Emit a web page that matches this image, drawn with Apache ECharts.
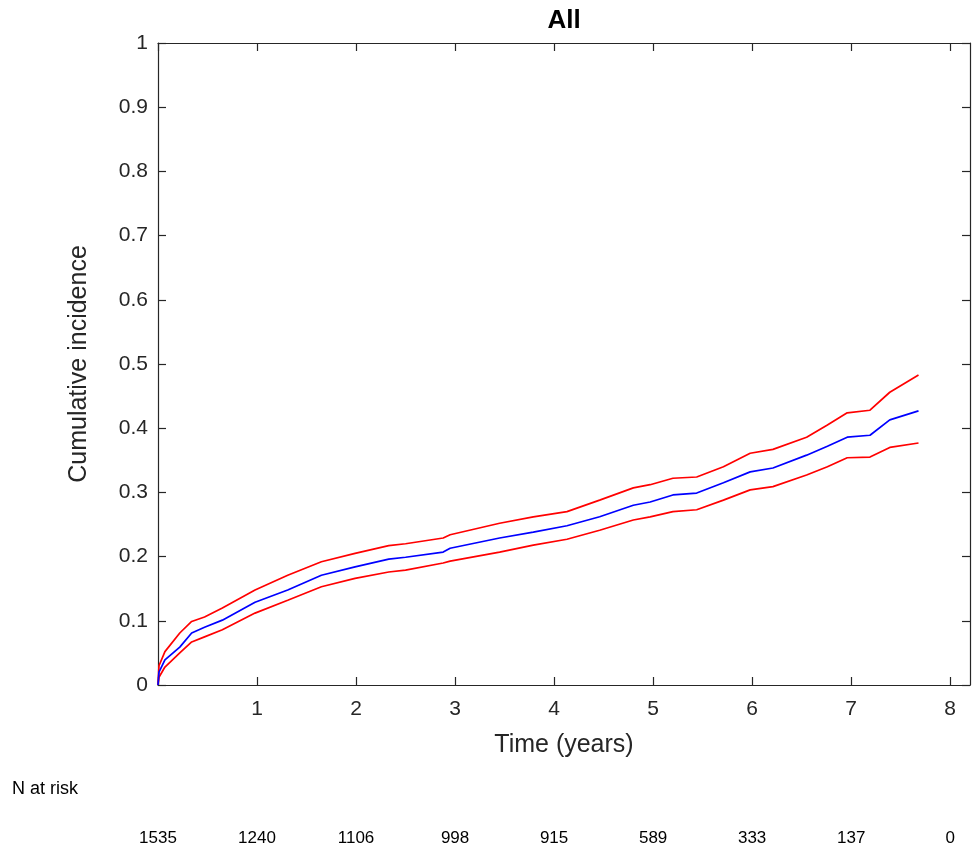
<!DOCTYPE html>
<html>
<head>
<meta charset="utf-8">
<script src="https://cdn.jsdelivr.net/npm/echarts@6/dist/echarts.min.js"></script>
<style>html,body{margin:0;padding:0;background:#fff;}#c{width:974px;height:851px;}</style>
</head>
<body>
<div id="c"></div>
<script>
// Data
var times = [0, 0.01, 0.07, 0.22, 0.34, 0.47, 0.65, 0.98, 1.31, 1.65, 1.99, 2.33, 2.5, 2.88, 2.95, 3.45, 3.79, 4.13, 4.46, 4.8, 4.97, 5.2, 5.44, 5.71, 5.98, 6.21, 6.55, 6.76, 6.96, 7.19, 7.39, 7.68];
var estimate = [0, 0.02, 0.039, 0.059, 0.081, 0.090, 0.101, 0.129, 0.148, 0.171, 0.184, 0.196, 0.199, 0.207, 0.213, 0.229, 0.238, 0.248, 0.262, 0.280, 0.285, 0.296, 0.299, 0.315, 0.332, 0.338, 0.358, 0.372, 0.386, 0.389, 0.413, 0.427];
var upperCI = [0, 0.03, 0.052, 0.081, 0.099, 0.106, 0.120, 0.148, 0.171, 0.192, 0.205, 0.217, 0.220, 0.229, 0.234, 0.252, 0.262, 0.270, 0.288, 0.307, 0.312, 0.322, 0.324, 0.340, 0.361, 0.367, 0.386, 0.405, 0.424, 0.428, 0.456, 0.483];
var lowerCI = [0, 0.012, 0.028, 0.050, 0.067, 0.075, 0.086, 0.112, 0.132, 0.153, 0.166, 0.176, 0.179, 0.190, 0.193, 0.207, 0.218, 0.227, 0.241, 0.257, 0.262, 0.270, 0.273, 0.288, 0.304, 0.309, 0.327, 0.340, 0.354, 0.355, 0.370, 0.377];
var riskTimes = [0, 1, 2, 3, 4, 5, 6, 7, 8];
var nAtRisk = [1535, 1240, 1106, 998, 915, 589, 333, 137, 0];
var xTickValues = [0, 1, 2, 3, 4, 5, 6, 7, 8];
var xLabelValues = [1, 2, 3, 4, 5, 6, 7, 8];

function pairs(vals) { return times.map(function (t, i) { return [t, vals[i]]; }); }

var axisColor = '#262626';
var font = 'Liberation Sans, Arial, Helvetica, sans-serif';
var chart = echarts.init(document.getElementById('c'), null, {renderer: 'canvas'});

function boxAxis() {
  return {
    axisLine: {show: true, onZero: false, lineStyle: {color: axisColor, width: 1.2}},
    axisTick: {show: true, inside: true, length: 8, lineStyle: {color: axisColor, width: 1.2}},
    splitLine: {show: false}
  };
}

var option = {
  animation: false,
  backgroundColor: '#fff',
  title: {
    text: 'All', left: 559, top: 3, textAlign: 'center',
    textStyle: {fontFamily: font, fontWeight: 'bold', fontSize: 26, color: '#000'}
  },
  grid: {left: 158, right: 4, top: 43, bottom: 166, containLabel: false},
  xAxis: [
    (function () {
      var a = boxAxis();
      a.axisTick.customValues = xTickValues;
      return Object.assign(a, {
        type: 'value', min: 0, max: 8.2, interval: 1, position: 'bottom',
        name: 'Time (years)', nameLocation: 'middle', nameGap: 48,
        nameTextStyle: {fontFamily: font, fontSize: 25, color: axisColor},
        axisLabel: {
          margin: 14, fontFamily: font, fontSize: 21, color: axisColor,
          customValues: xLabelValues,
          formatter: function (v) { return String(v); }
        }
      });
    })(),
    (function () {
      var a = boxAxis();
      a.axisTick.customValues = xTickValues;
      return Object.assign(a, {
        type: 'value', min: 0, max: 8.2, interval: 1, position: 'top',
        axisLabel: {show: false}
      });
    })()
  ],
  yAxis: [
    Object.assign(boxAxis(), {
      type: 'value', min: 0, max: 1, interval: 0.1, position: 'left',
      name: 'Cumulative incidence', nameLocation: 'middle', nameGap: 66,
      nameTextStyle: {fontFamily: font, fontSize: 25, color: axisColor},
      axisLabel: {
        margin: 10, fontFamily: font, fontSize: 21, color: axisColor,
        formatter: function (v) { return String(Math.round(v * 10) / 10); }
      }
    }),
    Object.assign(boxAxis(), {
      type: 'value', min: 0, max: 1, interval: 0.1, position: 'right',
      axisLabel: {show: false}
    })
  ],
  series: [
    {type: 'line', name: 'Upper', data: pairs(upperCI), showSymbol: false, symbol: 'none',
     lineStyle: {color: '#ff0000', width: 1.7}, xAxisIndex: 0, yAxisIndex: 0, z: 2},
    {type: 'line', name: 'Lower', data: pairs(lowerCI), showSymbol: false, symbol: 'none',
     lineStyle: {color: '#ff0000', width: 1.7}, xAxisIndex: 0, yAxisIndex: 0, z: 2},
    {type: 'line', name: 'Estimate', data: pairs(estimate), showSymbol: false, symbol: 'none',
     lineStyle: {color: '#0000ff', width: 1.7}, xAxisIndex: 0, yAxisIndex: 0, z: 3}
  ]
};
chart.setOption(option);

// N at risk table positioned through the x axis scale
var graphics = [{
  type: 'text', left: 12, top: 780,
  style: {text: 'N at risk', fontFamily: font, fontSize: 18, fill: '#000'}
}];
riskTimes.forEach(function (t, i) {
  var x = chart.convertToPixel({xAxisIndex: 0}, t);
  graphics.push({
    type: 'text', x: x, y: 838,
    style: {text: String(nAtRisk[i]), fontFamily: font, fontSize: 17, fill: '#000',
            textAlign: 'center', textVerticalAlign: 'middle'}
  });
});
chart.setOption({graphic: graphics});
</script>
</body>
</html>
